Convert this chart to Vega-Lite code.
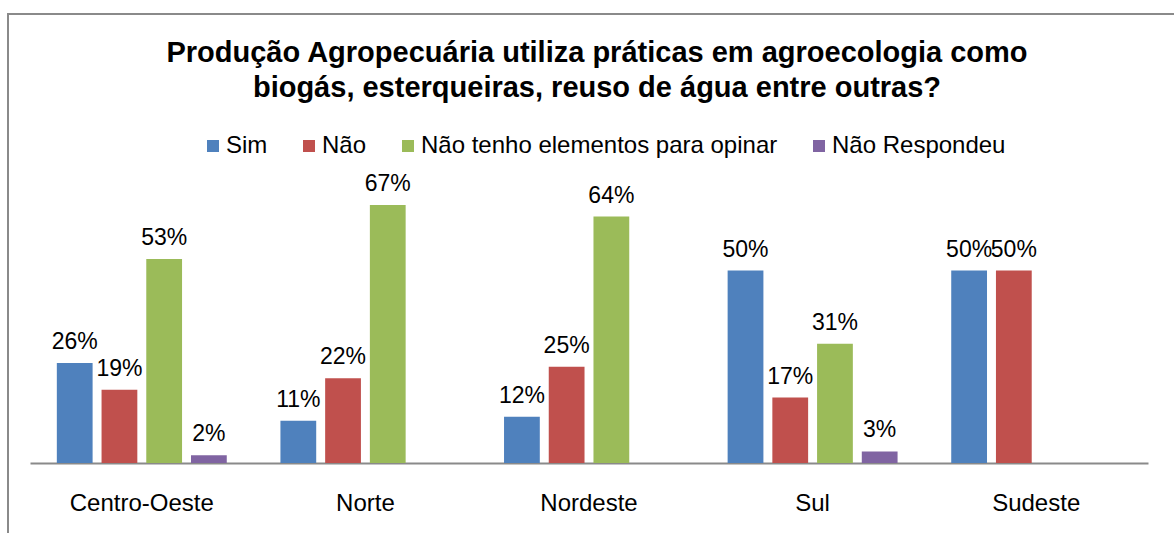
{
  "$schema": "https://vega.github.io/schema/vega-lite/v6.json",
  "autosize": "none",
  "width": 1178,
  "height": 540,
  "padding": {"left": 8, "top": 14, "right": 0, "bottom": 0},
  "background": "white",
  "config": {
    "view": {"stroke": "#8a8a8a", "strokeWidth": 2},
    "font": "Liberation Sans"
  },
  "title": {
    "text": ["Produção Agropecuária utiliza práticas em agroecologia como", "biogás, esterqueiras, reuso de água entre outras?"],
    "fontSize": 29,
    "fontWeight": "bold",
    "color": "black",
    "anchor": "middle",
    "offset": -89,
    "lineHeight": 35,
    "font": "Liberation Sans"
  },
  "data": {
    "values": [
      {"region": "Centro-Oeste", "series": "Sim", "value": 0.26},
      {"region": "Centro-Oeste", "series": "Não", "value": 0.19},
      {"region": "Centro-Oeste", "series": "Não tenho elementos para opinar", "value": 0.53},
      {"region": "Centro-Oeste", "series": "Não Respondeu", "value": 0.02},
      {"region": "Norte", "series": "Sim", "value": 0.11},
      {"region": "Norte", "series": "Não", "value": 0.22},
      {"region": "Norte", "series": "Não tenho elementos para opinar", "value": 0.67},
      {"region": "Nordeste", "series": "Sim", "value": 0.12},
      {"region": "Nordeste", "series": "Não", "value": 0.25},
      {"region": "Nordeste", "series": "Não tenho elementos para opinar", "value": 0.64},
      {"region": "Sul", "series": "Sim", "value": 0.50},
      {"region": "Sul", "series": "Não", "value": 0.17},
      {"region": "Sul", "series": "Não tenho elementos para opinar", "value": 0.31},
      {"region": "Sul", "series": "Não Respondeu", "value": 0.03},
      {"region": "Sudeste", "series": "Sim", "value": 0.50},
      {"region": "Sudeste", "series": "Não", "value": 0.50}
    ]
  },
  "encoding": {
    "x": {
      "field": "region",
      "type": "nominal",
      "sort": ["Centro-Oeste", "Norte", "Nordeste", "Sul", "Sudeste"],
      "scale": {"range": [22, 1140], "paddingInner": 0, "paddingOuter": 0},
      "axis": {
        "title": null,
        "labelAngle": 0,
        "labelFontSize": 24,
        "labelColor": "black",
        "labelFont": "Liberation Sans",
        "labelPadding": 28,
        "ticks": false,
        "domainColor": "#8a8a8a",
        "domainWidth": 2,
        "offset": -91
      }
    },
    "xOffset": {
      "field": "series",
      "type": "nominal",
      "sort": ["Sim", "Não", "Não tenho elementos para opinar", "Não Respondeu"],
      "scale": {"paddingInner": 0.2, "paddingOuter": 0.6}
    },
    "y": {
      "field": "value",
      "type": "quantitative",
      "scale": {"domain": [0, 0.8], "range": [449, 141]},
      "axis": null
    }
  },
  "layer": [
    {
      "mark": {"type": "bar"},
      "encoding": {
        "color": {
          "field": "series",
          "type": "nominal",
          "sort": ["Sim", "Não", "Não tenho elementos para opinar", "Não Respondeu"],
          "scale": {"range": ["#4F81BD", "#C0504D", "#9BBB59", "#8064A2"]},
          "legend": {
            "title": null,
            "orient": "none",
            "legendX": 193,
            "legendY": 120,
            "padding": 0,
            "direction": "horizontal",
            "symbolType": "square",
            "symbolSize": 144,
            "symbolStrokeWidth": 0,
            "labelFontSize": 24,
            "labelLimit": 0,
            "labelColor": "black",
            "labelFont": "Liberation Sans",
            "labelOffset": 1,
            "columnPadding": 29
          }
        }
      }
    },
    {
      "mark": {"type": "text", "baseline": "bottom", "dy": -9, "fontSize": 23, "color": "black", "font": "Liberation Sans"},
      "encoding": {
        "text": {"field": "value", "type": "quantitative", "format": ".0%"}
      }
    }
  ]
}
